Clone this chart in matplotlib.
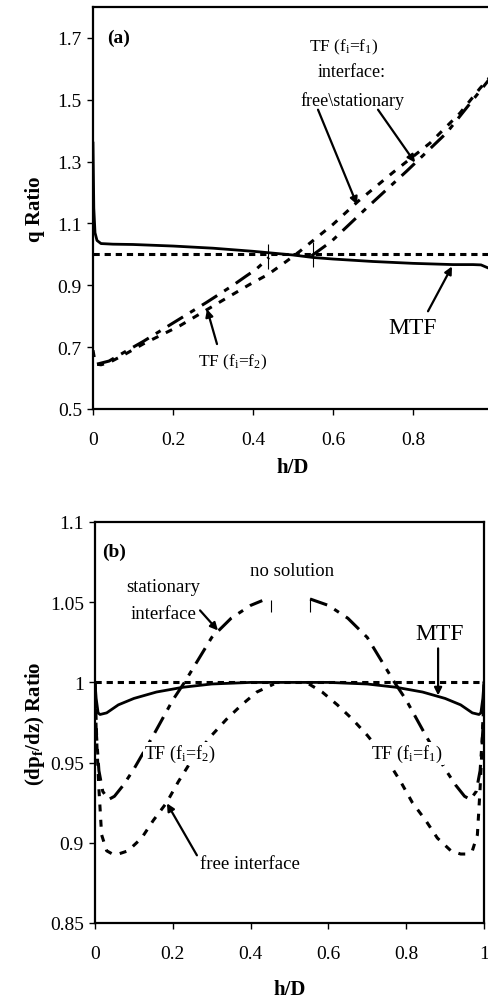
import matplotlib
matplotlib.use("Agg")
import matplotlib.pyplot as plt

plt.rcParams['font.family'] = ['Liberation Serif', 'DejaVu Serif']
plt.rcParams['mathtext.fontset'] = 'custom'
plt.rcParams['mathtext.rm'] = 'Liberation Serif'
plt.rcParams['mathtext.it'] = 'Liberation Serif:italic'
plt.rcParams['mathtext.bf'] = 'Liberation Serif:bold'
plt.rcParams['lines.scale_dashes'] = False

# ---- panel (a): q ratio ----
mtf_a_x = [0, 0.002, 0.005, 0.01, 0.02, 0.05, 0.1, 0.2, 0.3, 0.4, 0.5, 0.55,
           0.6, 0.7, 0.8, 0.9, 0.95, 0.97, 0.99, 1.0]
mtf_a_y = [1.36, 1.15, 1.07, 1.045, 1.035, 1.033, 1.032, 1.027, 1.02, 1.01,
           0.998, 0.99, 0.985, 0.977, 0.971, 0.967, 0.967, 0.966, 0.955, 0.95]

free_a_x = [0, 0.004, 0.008, 0.02, 0.04, 0.08, 0.125, 0.217, 0.308, 0.392,
            0.4375, 0.483, 0.517, 0.6, 0.663, 0.75, 0.8425, 0.9175, 0.9675, 0.99]
free_a_y = [0.69, 0.66, 0.645, 0.643, 0.65, 0.677, 0.71, 0.769, 0.839, 0.903,
            0.935, 0.977, 1.01, 1.097, 1.172, 1.265, 1.36, 1.457, 1.537, 1.57]

stat_f2_a_x = [0.01, 0.04, 0.08, 0.125, 0.2, 0.283, 0.35, 0.383, 0.408, 0.44]
stat_f2_a_y = [0.645, 0.655, 0.685, 0.718, 0.778, 0.844, 0.9, 0.93, 0.952, 0.99]

stat_f1_a_x = [0.546, 0.596, 0.684, 0.784, 0.884, 0.99]
stat_f1_a_y = [0.995, 1.042, 1.15, 1.269, 1.393, 1.565]

mark_a_x = [0.4375, 0.55]
mark_a_lo = [0.952, 0.958]
mark_a_hi = [1.032, 1.04]

yticks_a = [0.5, 0.7, 0.9, 1.1, 1.3, 1.5, 1.7]
xticks_a = [0, 0.2, 0.4, 0.6, 0.8]

# ---- panel (b): pressure gradient ratio ----
mtf_b_x = [0, 0.003, 0.008, 0.013, 0.03, 0.06, 0.1, 0.158, 0.227, 0.3, 0.4, 0.5,
           0.6, 0.7, 0.773, 0.842, 0.9, 0.94, 0.97, 0.987, 0.992, 0.997, 1.0]
mtf_b_y = [1.0, 0.99, 0.981, 0.98, 0.981, 0.986, 0.99, 0.994, 0.997, 0.999, 1.0,
           1.0, 1.0, 0.999, 0.997, 0.994, 0.99, 0.986, 0.981, 0.98, 0.981, 0.99, 1.0]

stat_l_b_x = [0, 0.003, 0.01, 0.02, 0.035, 0.05, 0.073, 0.1, 0.15, 0.2, 0.23,
              0.3, 0.35, 0.4, 0.43]
stat_l_b_y = [1.0, 0.97, 0.945, 0.932, 0.927, 0.929, 0.936, 0.946, 0.967, 0.989,
              1.0, 1.028, 1.04, 1.048, 1.051]
stat_r_b_x = [0.553, 0.6, 0.65, 0.7, 0.77, 0.8, 0.85, 0.9, 0.927, 0.95, 0.965,
              0.98, 0.99, 0.997, 1.0]
stat_r_b_y = [1.052, 1.048, 1.04, 1.028, 1.0, 0.989, 0.967, 0.946, 0.936, 0.929,
              0.927, 0.932, 0.945, 0.97, 1.0]

free_l_b_x = [0, 0.005, 0.01, 0.017, 0.03, 0.045, 0.06, 0.085, 0.12, 0.15, 0.184,
              0.214, 0.25, 0.3, 0.338, 0.377, 0.416, 0.46]
free_l_b_y = [1.0, 0.96, 0.934, 0.905, 0.895, 0.893, 0.893, 0.895, 0.903, 0.914,
              0.925, 0.938, 0.952, 0.967, 0.977, 0.986, 0.994, 0.999]
free_r_b_x = [0.55, 0.584, 0.623, 0.662, 0.7, 0.75, 0.786, 0.816, 0.85, 0.88,
              0.915, 0.94, 0.955, 0.97, 0.983, 0.99, 0.995, 1.0]
free_r_b_y = [0.999, 0.994, 0.986, 0.977, 0.967, 0.952, 0.938, 0.925, 0.914,
              0.903, 0.895, 0.893, 0.893, 0.895, 0.905, 0.934, 0.96, 1.0]

mark_b_x = [0.452, 0.553]
mark_b_lo = [1.044, 1.044]
mark_b_hi = [1.0513, 1.0528]

yticks_b = [0.85, 0.9, 0.95, 1, 1.05, 1.1]
xticks_b = [0, 0.2, 0.4, 0.6, 0.8, 1]

ref_y = 1.0

free_dash = (5, 6)
stat_dash = (13, 6, 4, 6)
ref_dash = (4.5, 3.5)
lw = 2.2

fig = plt.figure(figsize=(4.89, 10.04), dpi=100)
ax1 = fig.add_axes([93 / 489, (1004 - 410) / 1004, 400 / 489, 402 / 1004])
ax2 = fig.add_axes([95 / 489, (1004 - 924) / 1004, 389 / 489, 401 / 1004])

arrow = dict(arrowstyle='-|>', color='k', lw=1.6, mutation_scale=11,
             shrinkA=0, shrinkB=0)
white_box = dict(facecolor='white', edgecolor='none', pad=0.5)


def style_axes(ax, xticks, yticks, yfmt):
    for s in ax.spines.values():
        s.set_linewidth(1.6)
    ax.set_xticks(xticks)
    ax.set_xticklabels(['%g' % t for t in xticks])
    ax.set_yticks(yticks)
    ax.set_yticklabels([yfmt % t for t in yticks])
    ax.tick_params(direction='out', length=4, width=1, labelsize=14)
    ax.tick_params(axis='x', pad=12)
    ax.tick_params(axis='y', pad=4)


# panel (a)
ax1.axhline(ref_y, color='k', lw=lw, dashes=ref_dash)
ax1.plot(free_a_x, free_a_y, color='k', lw=lw, dashes=free_dash)
ax1.plot(stat_f2_a_x, stat_f2_a_y, color='k', lw=lw, dashes=stat_dash)
ax1.plot(stat_f1_a_x, stat_f1_a_y, color='k', lw=lw, dashes=stat_dash)
ax1.plot(mtf_a_x, mtf_a_y, color='k', lw=2.0)
ax1.vlines(mark_a_x, mark_a_lo, mark_a_hi, color='k', lw=0.8)
ax1.set_xlim(0, 1)
ax1.set_ylim(0.5, 1.8)
style_axes(ax1, xticks_a, yticks_a, '%.1f')
ax1.set_xlabel('h/D', fontsize=15, fontweight='bold')
ax1.xaxis.set_label_coords(0.5, -0.144)
ax1.xaxis.label.set_va('center')
ax1.set_ylabel('q Ratio', fontsize=15, fontweight='bold')
ax1.yaxis.set_label_coords(-0.145, 0.5)
ax1.yaxis.label.set_va('center')

ax1.text(0.035, 1.703, '(a)', fontsize=14, fontweight='bold', ha='left', va='center')
ax1.text(0.6275, 1.674, r'TF (f$_{\mathrm{i}}$=f$_{\mathrm{1}}$)', fontsize=12.5, ha='center', va='center')
ax1.text(0.6475, 1.59, 'interface:', fontsize=13, ha='center', va='center')
ax1.text(0.6475, 1.50, 'free\\stationary', fontsize=13, ha='center', va='center')
ax1.annotate('', xy=(0.66, 1.161), xytext=(0.5625, 1.468), arrowprops=arrow)
ax1.annotate('', xy=(0.805, 1.297), xytext=(0.7125, 1.468), arrowprops=arrow)
ax1.text(0.80, 0.765, 'MTF', fontsize=17, ha='center', va='center')
ax1.annotate('', xy=(0.8975, 0.961), xytext=(0.8375, 0.816), arrowprops=arrow)
ax1.text(0.35, 0.655, r'TF (f$_{\mathrm{i}}$=f$_{\mathrm{2}}$)', fontsize=12.5, ha='center', va='center')
ax1.annotate('', xy=(0.285, 0.823), xytext=(0.31, 0.71), arrowprops=arrow)

# panel (b)
ax2.axhline(ref_y, color='k', lw=lw, dashes=ref_dash)
ax2.plot(free_l_b_x, free_l_b_y, color='k', lw=lw, dashes=free_dash)
ax2.plot(free_r_b_x, free_r_b_y, color='k', lw=lw, dashes=free_dash)
ax2.plot(stat_l_b_x, stat_l_b_y, color='k', lw=lw, dashes=stat_dash)
ax2.plot(stat_r_b_x, stat_r_b_y, color='k', lw=lw, dashes=stat_dash)
ax2.plot(mtf_b_x, mtf_b_y, color='k', lw=2.0)
ax2.vlines(mark_b_x, mark_b_lo, mark_b_hi, color='k', lw=0.8)
ax2.set_xlim(0, 1)
ax2.set_ylim(0.85, 1.1)
style_axes(ax2, xticks_b, yticks_b, '%g')
ax2.set_xlabel('h/D', fontsize=15, fontweight='bold')
ax2.xaxis.set_label_coords(0.5, -0.1646)
ax2.xaxis.label.set_va('center')
ax2.set_ylabel(r'(dp$_{\mathbf{f}}$/dz) Ratio', fontsize=15, fontweight='bold')
ax2.yaxis.set_label_coords(-0.154, 0.5)
ax2.yaxis.label.set_va('center')

ax2.text(0.018, 1.082, '(b)', fontsize=14, fontweight='bold', ha='left', va='center')
ax2.text(0.506, 1.0698, 'no solution', fontsize=13.5, ha='center', va='center')
ax2.text(0.175, 1.0598, 'stationary', fontsize=13.5, ha='center', va='center')
ax2.text(0.175, 1.043, 'interface', fontsize=13.5, ha='center', va='center')
ax2.annotate('', xy=(0.316, 1.0324), xytext=(0.27, 1.0449), arrowprops=arrow)
ax2.text(0.887, 1.0305, 'MTF', fontsize=17, ha='center', va='center')
ax2.annotate('', xy=(0.882, 0.9919), xytext=(0.882, 1.0212), arrowprops=arrow)
ax2.text(0.2185, 0.9558, r'TF (f$_{\mathrm{i}}$=f$_{\mathrm{2}}$)', fontsize=13,
         ha='center', va='center', bbox=white_box, zorder=5)
ax2.text(0.802, 0.9558, r'TF (f$_{\mathrm{i}}$=f$_{\mathrm{1}}$)', fontsize=13,
         ha='center', va='center', bbox=white_box, zorder=5)
ax2.text(0.398, 0.8872, 'free interface', fontsize=13.5, ha='center', va='center')
ax2.annotate('', xy=(0.185, 0.9246), xytext=(0.262, 0.8922), arrowprops=arrow)

fig.savefig('out.png', dpi=100)
